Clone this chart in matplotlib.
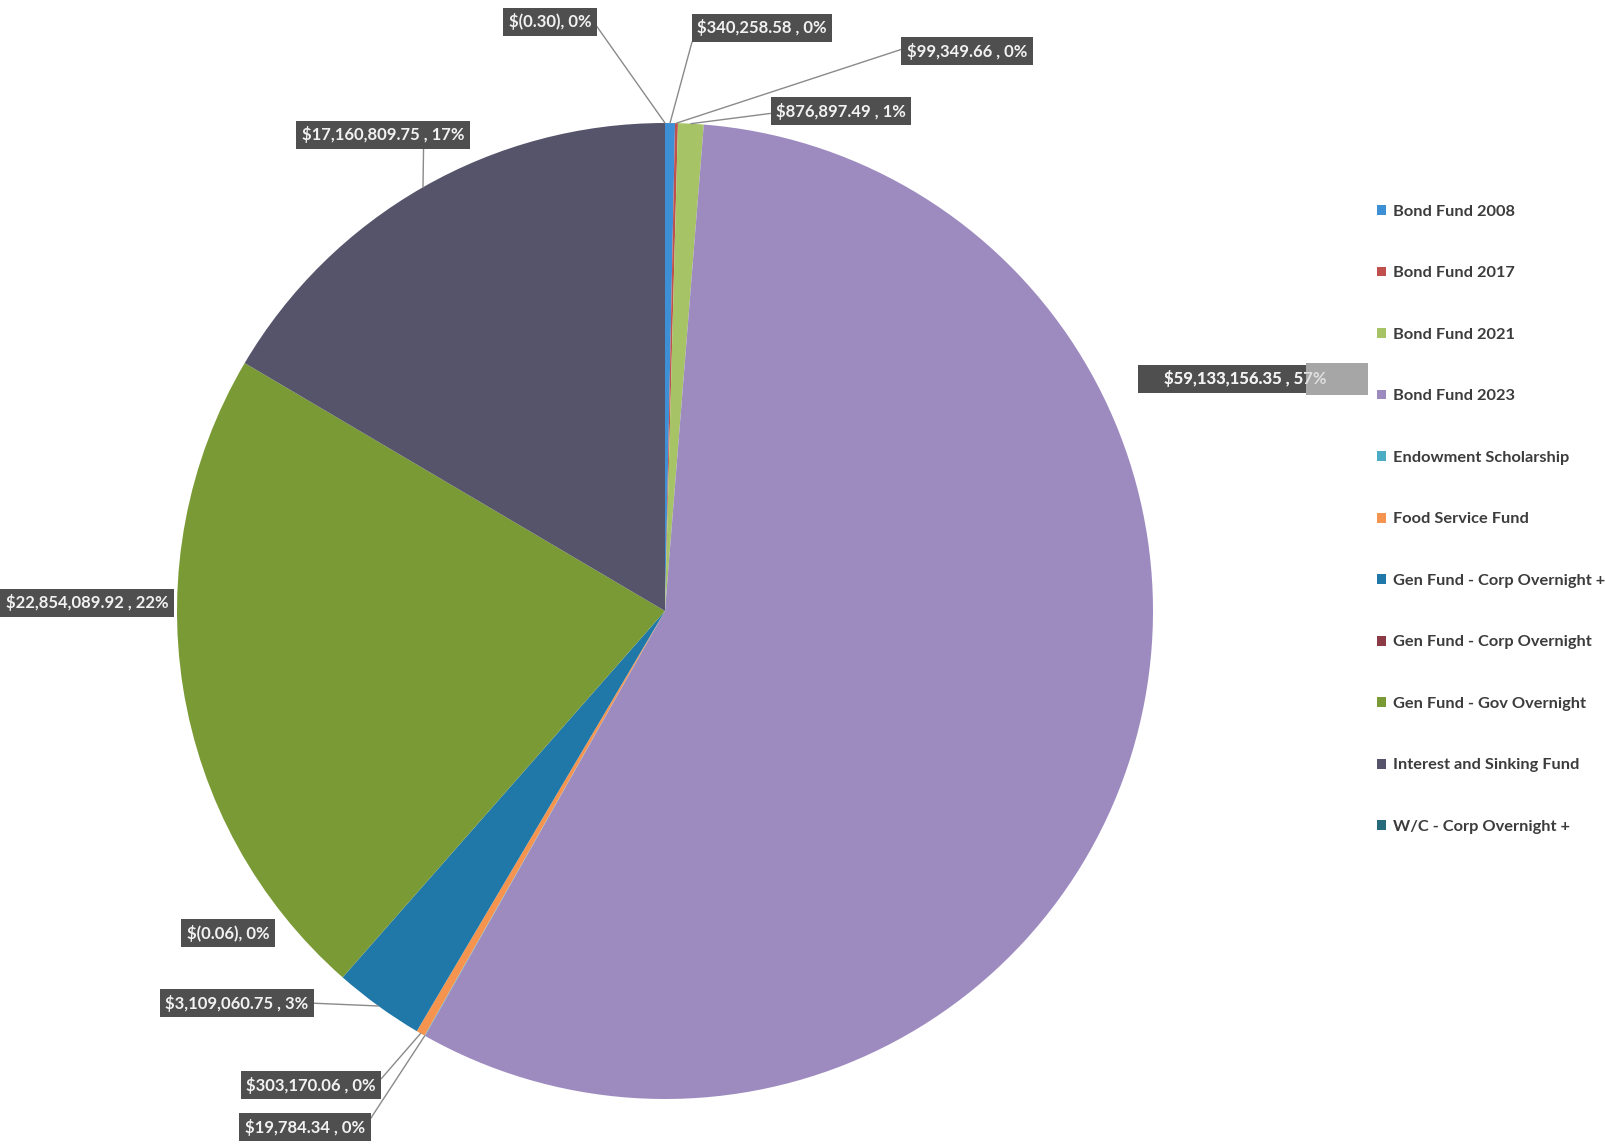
import numpy as np
import matplotlib.pyplot as plt
from matplotlib.patches import Rectangle

# fund balances, in legend order
funds = [
    "Bond Fund 2008",
    "Bond Fund 2017",
    "Bond Fund 2021",
    "Bond Fund 2023",
    "Endowment Scholarship",
    "Food Service Fund",
    "Gen Fund - Corp Overnight +",
    "Gen Fund - Corp Overnight",
    "Gen Fund - Gov Overnight",
    "Interest and Sinking Fund",
    "W/C - Corp Overnight +",
]
balances = [340258.58, 99349.66, 876897.49, 59133156.35, 19784.34, 303170.06,
            3109060.75, -0.06, 22854089.92, 17160809.75, -0.30]

colors = ["#3d8fd6", "#c0504d", "#a6c466", "#9d8bc0", "#4bacc6", "#f4944e",
          "#1f78a8", "#8a3b45", "#7a9a35", "#56546b", "#276a7c"]

# label box centres (pixels, from top-left) and where the leader leaves the box
label_pos = [(762, 28), (967, 51), (841, 111), (1245, 379), (305, 1127),
             (311, 1085), (237, 1003), (228, 933), (87, 603), (383, 135),
             (550, 22)]
leader_rel = [(0, 0.8), (0, 0.7), (0, 0.4), None, (1, 0.5),
              (1, 0.5), (1, 0.5), None, None, (0.75, 0), (1, 0.7)]

W, H = 1606, 1144
CX, CY, R = 665, H - 611, 488

fig = plt.figure(figsize=(W / 100, H / 100), dpi=100)
ax = fig.add_axes([0, 0, 1, 1])

sizes = np.abs(balances)
pct = sizes / sizes.sum() * 100

wedges, _ = ax.pie(sizes, colors=colors, startangle=90, counterclock=False,
                   center=(CX, CY), radius=R, wedgeprops=dict(linewidth=0))
ax.set_xlim(0, W)
ax.set_ylim(0, H)
ax.set_aspect("equal")
ax.axis("off")


def fmt(v, p):
    if v < 0:
        return f"$({abs(v):,.2f}), {p:.0f}%"
    return f"${v:,.2f} , {p:.0f}%"


lab = dict(ha="center", va="center", fontsize=12, family="Lato",
           weight="bold", color="#f2f2f2")
box = dict(boxstyle="square,pad=0.33", fc="#4f4f4f", ec="none")
for w, v, p, (lx, ly), rel in zip(wedges, balances, pct, label_pos, leader_rel):
    txt = fmt(v, p)
    if v > 50e6:
        # big label: wide box whose right end is washed out in the scan
        ax.text(lx, H - ly, "     " + txt + "     ", bbox=box, **lab)
        ax.add_patch(Rectangle((1306, H - 395), 62, 32, fc="#a6a6a6",
                               ec="none", zorder=5))
        ax.text(lx, H - ly, "     " + txt + "     ", zorder=6, alpha=0.75, **lab)
        continue
    if rel is None:
        ax.text(lx, H - ly, txt, bbox=box, **lab)
        continue
    mid = np.deg2rad((w.theta1 + w.theta2) / 2)
    px, py = CX + R * np.cos(mid), CY + R * np.sin(mid)
    ax.annotate(txt, xy=(px, py), xytext=(lx, H - ly), bbox=box,
                arrowprops=dict(arrowstyle="-", color="#8a8a8a", lw=1,
                                shrinkA=0, shrinkB=0, relpos=rel), **lab)

leg = ax.legend(wedges, funds, loc="upper left", bbox_to_anchor=(1362 / W, 1 - 190 / H),
                frameon=False, handlelength=0.55, handleheight=0.55,
                handletextpad=0.45, labelspacing=2.9, labelcolor="#3c3c3c",
                prop=dict(family="Lato", weight="bold", size=11.8))

plt.savefig("out.png", dpi=100)
